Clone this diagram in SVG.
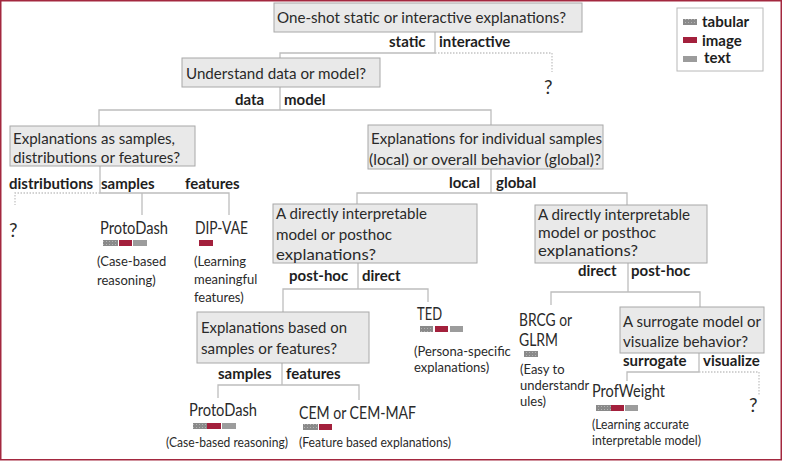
<svg xmlns="http://www.w3.org/2000/svg" width="788" height="462" viewBox="0 0 788 462">
<defs>
<pattern id="dots" width="3" height="3" patternUnits="userSpaceOnUse">
<rect width="3" height="3" fill="#8a8a8a"/>
<rect x="1" y="1" width="1" height="1" fill="#b4b4b4"/>
</pattern>
</defs>
<style>
.q{fill:#e9e9e9;stroke:#a8a8a8;stroke-width:1}
.qt{font-family:Lato,"Open Sans",sans-serif;font-size:16px;fill:#2a2a2a}
.qs{font-family:Lato,"Open Sans",sans-serif;font-size:15px;fill:#2a2a2a}
.lb{font-family:Lato,"Open Sans",sans-serif;font-size:15px;font-weight:bold;fill:#1e1e1e}
.m{font-family:Lato,"Open Sans",sans-serif;font-size:17px;fill:#2a2a2a}
.d{font-family:Lato,"Open Sans",sans-serif;font-size:13px;fill:#2a2a2a}
.qm{font-family:Lato,"Open Sans",sans-serif;font-size:19px;fill:#2a2a2a}
.c{fill:none;stroke:#bdbdbd;stroke-width:1.3}
.cd{fill:none;stroke:#c4c4c4;stroke-width:1.3;stroke-dasharray:1.5 1.5}
.tab{fill:url(#dots)}
.img{fill:#a3203c}
.txt{fill:#9c9c9c}
</style>
<rect x="0.75" y="0.75" width="780.5" height="459" fill="#ffffff" stroke="#a3283f" stroke-width="1.5"/>

<g id="connectors">
<path class="c" d="M435 32V53H280V58"/>
<path class="cd" d="M435 53H552V72"/>
<path class="c" d="M280 87V110M99 126V110H491V125"/>
<path class="c" d="M100 166V193H229V215M142 193V215"/>
<path class="cd" d="M100 193H15V205"/>
<path class="c" d="M491 169V193M357 204V193H627V205"/>
<path class="c" d="M358 263V289M283 312V289H428V302"/>
<path class="c" d="M282 363V385M218 398V385H359V400"/>
<path class="c" d="M628 263V292M551 305V292H700V307"/>
<path class="c" d="M699 353V372M627 381V372H699"/>
<path class="cd" d="M699 372H759V396"/>
</g>

<g id="q-oneshot">
<rect class="q" x="274" y="3" width="308" height="29"/>
<text class="qt" x="277" y="23" textLength="289" lengthAdjust="spacingAndGlyphs">One-shot static or interactive explanations?</text>
<text class="lb" x="389" y="47">static</text>
<text class="lb" x="439" y="47">interactive</text>
</g>
<g id="a-interactive">
<text class="qm" x="544" y="94">?</text>
</g>

<g id="q-datamodel">
<rect class="q" x="182" y="58" width="198" height="29"/>
<text class="qt" x="186" y="79" textLength="180" lengthAdjust="spacingAndGlyphs">Understand data or model?</text>
<text class="lb" x="235" y="105">data</text>
<text class="lb" x="284" y="105">model</text>
</g>

<g id="q-samples">
<rect class="q" x="10" y="126" width="185" height="40"/>
<text class="qt" x="13" y="144" textLength="162" lengthAdjust="spacingAndGlyphs">Explanations as samples,</text>
<text class="qt" x="13" y="163" textLength="167" lengthAdjust="spacingAndGlyphs">distributions or features?</text>
<text class="lb" x="9" y="189">distributions</text>
<text class="lb" x="101" y="189">samples</text>
<text class="lb" x="185" y="189">features</text>
</g>
<g id="a-distributions">
<text class="qm" x="9" y="237">?</text>
</g>

<g id="protodash-1">
<text class="m" x="100" y="234" textLength="68" lengthAdjust="spacingAndGlyphs">ProtoDash</text>
<rect class="tab" x="103" y="240" width="15" height="6"/>
<rect class="img" x="119" y="240" width="13" height="6"/>
<rect class="txt" x="133" y="240" width="14" height="6"/>
<text class="d" x="97" y="265.5">(Case-based</text>
<text class="d" x="97" y="284.5">reasoning)</text>
</g>

<g id="dipvae">
<text class="m" x="195" y="234" textLength="53" lengthAdjust="spacingAndGlyphs">DIP-VAE</text>
<rect class="img" x="199" y="240" width="14" height="6"/>
<text class="d" x="194" y="265.5">(Learning</text>
<text class="d" x="194" y="283.5">meaningful</text>
<text class="d" x="194" y="301.5">features)</text>
</g>

<g id="q-localglobal">
<rect class="q" x="368" y="125" width="235" height="44"/>
<text class="qt" x="371" y="144" textLength="231" lengthAdjust="spacingAndGlyphs">Explanations for individual samples</text>
<text class="qt" x="369" y="165" textLength="232" lengthAdjust="spacingAndGlyphs">(local) or overall behavior (global)?</text>
<text class="lb" x="449" y="188">local</text>
<text class="lb" x="496" y="188">global</text>
</g>

<g id="q-local-direct">
<rect class="q" x="273" y="204" width="204" height="59"/>
<text class="qt" x="276" y="219" textLength="151" lengthAdjust="spacingAndGlyphs">A directly interpretable</text>
<text class="qt" x="276" y="240" textLength="116" lengthAdjust="spacingAndGlyphs">model or posthoc</text>
<text class="qt" x="276" y="260" textLength="100" lengthAdjust="spacingAndGlyphs">explanations?</text>
<text class="lb" x="289" y="281">post-hoc</text>
<text class="lb" x="362" y="281">direct</text>
</g>

<g id="q-samples-features">
<rect class="q" x="197" y="312" width="172" height="51"/>
<text class="qt" x="201" y="333" textLength="146" lengthAdjust="spacingAndGlyphs">Explanations based on</text>
<text class="qt" x="201" y="354" textLength="136" lengthAdjust="spacingAndGlyphs">samples or features?</text>
<text class="lb" x="218" y="379">samples</text>
<text class="lb" x="286" y="379">features</text>
</g>

<g id="protodash-2">
<text class="m" x="189" y="416" textLength="68" lengthAdjust="spacingAndGlyphs">ProtoDash</text>
<rect class="tab" x="193" y="423" width="14" height="6"/>
<rect class="img" x="207" y="423" width="14" height="6"/>
<rect class="txt" x="222" y="423" width="14" height="6"/>
<text class="d" x="166" y="446.5" textLength="122" lengthAdjust="spacingAndGlyphs">(Case-based reasoning)</text>
</g>

<g id="cem">
<text class="m" x="299" y="419" textLength="117" lengthAdjust="spacingAndGlyphs">CEM or CEM-MAF</text>
<rect class="tab" x="303" y="424" width="15" height="6"/>
<rect class="img" x="319" y="424" width="13" height="6"/>
<text class="d" x="299" y="446.5" textLength="152" lengthAdjust="spacingAndGlyphs">(Feature based explanations)</text>
</g>

<g id="ted">
<text class="m" x="417" y="320" textLength="25" lengthAdjust="spacingAndGlyphs">TED</text>
<rect class="tab" x="420" y="326" width="13" height="6"/>
<rect class="img" x="435" y="326" width="13" height="6"/>
<rect class="txt" x="450" y="326" width="13" height="6"/>
<text class="d" x="414" y="355.5">(Persona-specific</text>
<text class="d" x="414" y="371.5">explanations)</text>
</g>

<g id="q-global-direct">
<rect class="q" x="535" y="205" width="172" height="58"/>
<text class="qs" x="538" y="220" textLength="152" lengthAdjust="spacingAndGlyphs">A directly interpretable</text>
<text class="qs" x="538" y="238" textLength="118" lengthAdjust="spacingAndGlyphs">model or posthoc</text>
<text class="qs" x="538" y="256" textLength="100" lengthAdjust="spacingAndGlyphs">explanations?</text>
<text class="lb" x="578" y="276">direct</text>
<text class="lb" x="631" y="276">post-hoc</text>
</g>

<g id="brcg">
<text class="m" x="519" y="326" textLength="53" lengthAdjust="spacingAndGlyphs">BRCG or</text>
<text class="m" x="519" y="346" textLength="39" lengthAdjust="spacingAndGlyphs">GLRM</text>
<rect class="tab" x="524" y="351" width="14" height="6"/>
<text class="d" x="520" y="373.5">(Easy to</text>
<text class="d" x="520" y="389.5">understandr</text>
<text class="d" x="520" y="405.5">ules)</text>
</g>

<g id="q-surrogate">
<rect class="q" x="620" y="307" width="144" height="46"/>
<text class="qt" x="623" y="327" textLength="138" lengthAdjust="spacingAndGlyphs">A surrogate model or</text>
<text class="qt" x="623" y="347" textLength="125" lengthAdjust="spacingAndGlyphs">visualize behavior?</text>
<text class="lb" x="623" y="366">surrogate</text>
<text class="lb" x="703" y="366">visualize</text>
</g>
<g id="a-visualize">
<text class="qm" x="749" y="412">?</text>
</g>

<g id="profweight">
<text class="m" x="592" y="397" textLength="73" lengthAdjust="spacingAndGlyphs">ProfWeight</text>
<rect class="tab" x="596" y="405" width="15" height="6"/>
<rect class="img" x="611" y="405" width="13" height="6"/>
<rect class="txt" x="625" y="405" width="13" height="6"/>
<text class="d" x="592" y="428.5" textLength="97" lengthAdjust="spacingAndGlyphs">(Learning accurate</text>
<text class="d" x="592" y="444.5" textLength="109" lengthAdjust="spacingAndGlyphs">interpretable model)</text>
</g>

<g id="legend">
<rect x="677" y="8" width="86" height="63" fill="#ffffff" stroke="#b8b8b8" stroke-width="1"/>
<rect class="tab" x="683" y="19" width="14" height="6"/>
<rect class="img" x="683" y="37" width="14" height="6"/>
<rect class="txt" x="683" y="56" width="14" height="6"/>
<text class="lb" x="702" y="26.5">tabular</text>
<text class="lb" x="702" y="45.5">image</text>
<text class="lb" x="704" y="62.5">text</text>
</g>
</svg>
